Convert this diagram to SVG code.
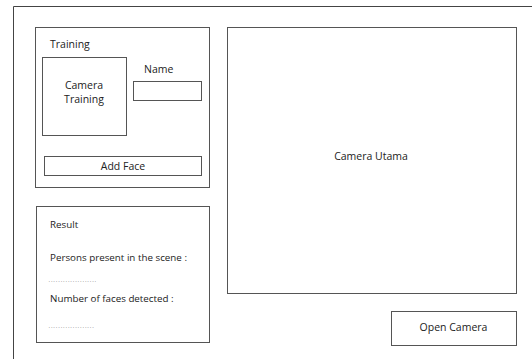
<svg xmlns="http://www.w3.org/2000/svg" width="532" height="359" viewBox="0 0 532 359">
<style>
.b{fill:#fff;stroke:#555;stroke-width:1}
.t{font-family:"Open Sans","Noto Sans",sans-serif;font-size:10.5px;fill:#222}
.s{font-size:9.8px}
.c{text-anchor:middle}
.d{font-family:"Open Sans",sans-serif;font-size:6px;fill:#666;letter-spacing:0.85px}
</style>
<rect width="532" height="359" fill="#fff"/>
<g id="frame"><path d="M13.5 359V6.5H532" fill="none" stroke="#444" stroke-width="1"/></g>
<g id="training">
<rect class="b" x="35.5" y="27.5" width="174" height="160"/>
<text class="t" x="50" y="48">Training</text>
</g>
<g id="camera-training">
<rect class="b" x="42.5" y="57.5" width="84" height="78"/>
<text class="t c" x="84" y="89">Camera</text>
<text class="t c" x="84" y="103">Training</text>
</g>
<g id="name">
<text class="t" x="144" y="73">Name</text>
<rect class="b" x="133.5" y="81.5" width="68" height="19"/>
</g>
<g id="add-face">
<rect class="b" x="44.5" y="156.5" width="157" height="19"/>
<text class="t c" x="123" y="170">Add Face</text>
</g>
<g id="result">
<rect class="b" x="36.5" y="206.5" width="173" height="136"/>
<text class="t s" x="50" y="228">Result</text>
<text class="t s" x="50" y="261">Persons present in the scene :</text>
<text class="d" x="48.5" y="282">....................</text>
<text class="t s" x="50" y="302">Number of faces detected :</text>
<text class="d" x="48.5" y="328">...................</text>
</g>
<g id="camera-utama">
<rect class="b" x="227.5" y="27.5" width="289" height="266"/>
<text class="t c" x="371" y="160">Camera Utama</text>
</g>
<g id="open-camera">
<rect class="b" x="391.5" y="311.5" width="125" height="34"/>
<text class="t c" x="453.5" y="331">Open Camera</text>
</g>
<g id="connectors"/>
</svg>
